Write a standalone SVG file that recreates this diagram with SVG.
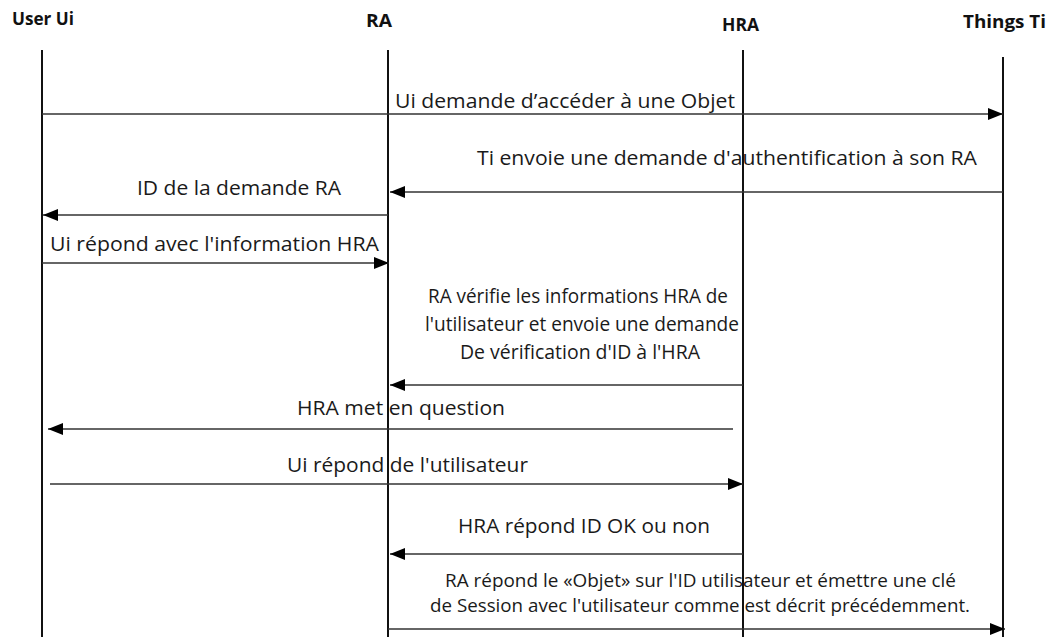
<svg xmlns="http://www.w3.org/2000/svg" width="1054" height="637" viewBox="0 0 1054 637">
  <style>
    .head { font-family: "Open Sans", "Liberation Sans", Arial, sans-serif; font-weight: bold; font-size: 17.5px; fill: #111; }
    .msg { font-family: "Open Sans", "Liberation Sans", Arial, sans-serif; font-size: 19.5px; fill: #1a1a1a; }
    .msg.tight { font-size: 18px; }
    .life { stroke: #111; stroke-width: 2; fill: none; }
    .arrow { stroke: #333; stroke-width: 1.6; fill: none; marker-end: url(#head); }
  </style>
  <defs>
    <marker id="head" markerUnits="userSpaceOnUse" markerWidth="16" markerHeight="13" refX="15" refY="6" orient="auto">
      <path d="M0,0 L15,6 L0,12 z" fill="#000"/>
    </marker>
  </defs>
  <rect width="1054" height="637" fill="#fff"/>

  <!-- participants: label + lifeline -->
  <g id="user-ui">
    <text class="head" x="12" y="25" textLength="62" lengthAdjust="spacingAndGlyphs">User Ui</text>
    <line class="life" x1="42" y1="50" x2="42" y2="637"/>
  </g>
  <g id="ra">
    <text class="head" x="366" y="27" textLength="26" lengthAdjust="spacingAndGlyphs">RA</text>
    <line class="life" x1="388" y1="50" x2="388" y2="637"/>
  </g>
  <g id="hra">
    <text class="head" x="722" y="31" textLength="37" lengthAdjust="spacingAndGlyphs">HRA</text>
    <line class="life" x1="743" y1="50" x2="743" y2="637"/>
  </g>
  <g id="things-ti">
    <text class="head" x="963" y="28" textLength="83" lengthAdjust="spacingAndGlyphs">Things Ti</text>
    <line class="life" x1="1003" y1="57" x2="1003" y2="637"/>
  </g>

  <!-- messages -->
  <g id="connectors">
    <line class="arrow" x1="42" y1="114" x2="1003" y2="114"/>
    <line class="arrow" x1="1003" y1="192" x2="390" y2="192"/>
    <line class="arrow" x1="388" y1="215" x2="43" y2="215"/>
    <line class="arrow" x1="42" y1="263" x2="389" y2="263"/>
    <line class="arrow" x1="743" y1="385" x2="390" y2="385"/>
    <line class="arrow" x1="733" y1="429" x2="48" y2="429"/>
    <line class="arrow" x1="50" y1="484" x2="743" y2="484"/>
    <line class="arrow" x1="743" y1="554" x2="390" y2="554"/>
    <line class="arrow" x1="388" y1="629" x2="1005" y2="629"/>
  </g>

  <!-- message labels -->
  <g id="labels">
    <text class="msg" x="395" y="108" textLength="340" lengthAdjust="spacingAndGlyphs">Ui demande d’accéder à une Objet</text>
    <text class="msg" x="477" y="165" textLength="500" lengthAdjust="spacingAndGlyphs">Ti envoie une demande d'authentification à son RA</text>
    <text class="msg" x="137" y="195" textLength="204" lengthAdjust="spacingAndGlyphs">ID de la demande RA</text>
    <text class="msg" x="50" y="251" textLength="329" lengthAdjust="spacingAndGlyphs">Ui répond avec l'information HRA</text>
    <text class="msg" x="428" y="303" textLength="300" lengthAdjust="spacingAndGlyphs">RA vérifie les informations HRA de</text>
    <text class="msg" x="425" y="331" textLength="314" lengthAdjust="spacingAndGlyphs">l'utilisateur et envoie une demande</text>
    <text class="msg" x="460" y="359" textLength="240" lengthAdjust="spacingAndGlyphs">De vérification d'ID à l'HRA</text>
    <text class="msg" x="297" y="415" textLength="208" lengthAdjust="spacingAndGlyphs">HRA met en question</text>
    <text class="msg" x="287" y="472" textLength="241" lengthAdjust="spacingAndGlyphs">Ui répond de l'utilisateur</text>
    <text class="msg" x="458" y="533" textLength="252" lengthAdjust="spacingAndGlyphs">HRA répond ID OK ou non</text>
    <text class="msg tight" x="445" y="587" textLength="511" lengthAdjust="spacingAndGlyphs">RA répond le «Objet» sur l'ID utilisateur et émettre une clé</text>
    <text class="msg tight" x="430" y="612" textLength="540" lengthAdjust="spacingAndGlyphs">de Session avec l'utilisateur comme est décrit précédemment.</text>
  </g>
</svg>
